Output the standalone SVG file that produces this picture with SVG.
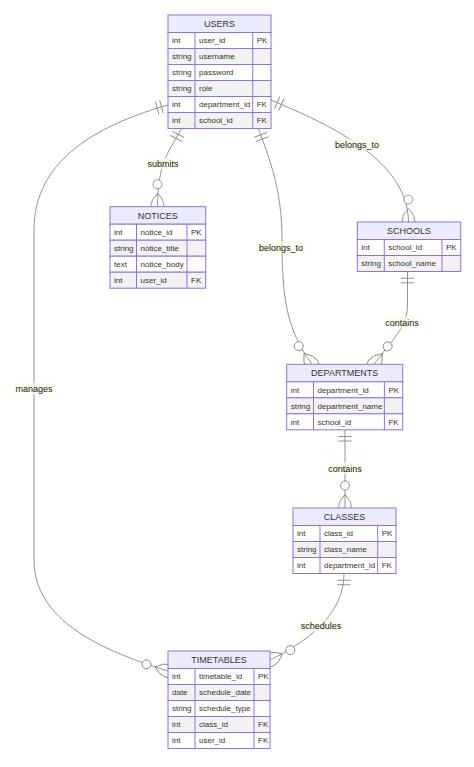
<svg xmlns="http://www.w3.org/2000/svg" width="474" height="767" viewBox="0 0 474 767">
<style>
.bg{fill:#ffffff}
.hdr{fill:#ECECFF;stroke:#9370DB;stroke-width:1}
.odd{fill:#ffffff;stroke:#9370DB;stroke-width:1}
.even{fill:#f2f2f2;stroke:#9370DB;stroke-width:1}
.sep{stroke:#9370DB;stroke-width:1}
.name{font-family:"Liberation Sans",Arial,sans-serif;font-size:9px;fill:#333;text-anchor:middle}
.attr{font-family:"Liberation Sans",Arial,sans-serif;font-size:8px;fill:#333}
.rel{fill:none;stroke:#7a7a7a;stroke-width:0.8}
.lblbox{fill:#f9ffec;opacity:0.7}
.lbl{font-family:"Liberation Sans",Arial,sans-serif;font-size:9px;fill:#131300;text-anchor:middle}
</style>
<defs>
<marker id="one" markerUnits="userSpaceOnUse" viewBox="0 -8 14 16" markerWidth="14" markerHeight="16" refX="0" refY="0" orient="auto">
<path d="M6.75,-6.75V6.75M11.25,-6.75V6.75" fill="none" stroke="#7a7a7a" stroke-width="0.8"/>
</marker>
<marker id="many" markerUnits="userSpaceOnUse" viewBox="-28 -8 44 16" markerWidth="44" markerHeight="16" refX="0" refY="0" orient="auto">
<circle cx="-22.5" cy="0" r="4.5" fill="#fff" stroke="#7a7a7a" stroke-width="0.8"/>
<path d="M-13.5,0Q0,-13.5 13.5,0Q0,13.5 -13.5,0" fill="none" stroke="#7a7a7a" stroke-width="0.8"/>
</marker>
</defs>
<rect class="bg" x="0" y="0" width="474" height="767"/>
<g id="connectors">
<path class="rel" d="M181.5,128.5C170,150 157.5,162 157.5,206.7" marker-start="url(#one)" marker-end="url(#many)"/>
<path class="rel" d="M271,100C330,125 408,160 408.5,222" marker-start="url(#one)" marker-end="url(#many)"/>
<path class="rel" d="M258.3,128.5C270,160 282,190 282,240C282,300 287,330 312,364.3" marker-start="url(#one)" marker-end="url(#many)"/>
<path class="rel" d="M407.5,271.5L407.5,305C407.5,325 397.4,333.7 374,364.3" marker-start="url(#one)" marker-end="url(#many)"/>
<path class="rel" d="M345,429.8L345,508" marker-start="url(#one)" marker-end="url(#many)"/>
<path class="rel" d="M344,573.5C344,610 315,638 270,660" marker-start="url(#one)" marker-end="url(#many)"/>
<path class="rel" d="M168,105C80,130 34,170 34,230L34,560C34,620 100,650 168,671" marker-start="url(#one)" marker-end="url(#many)"/>
<rect class="lblbox" x="145.5" y="157.5" width="35" height="12"/>
<text class="lbl" x="163" y="167.2">submits</text>
<rect class="lblbox" x="333" y="138.5" width="48" height="12"/>
<text class="lbl" x="357" y="148.2">belongs_to</text>
<rect class="lblbox" x="257" y="241.5" width="48" height="12"/>
<text class="lbl" x="281" y="251.2">belongs_to</text>
<rect class="lblbox" x="383.5" y="316.5" width="37" height="12"/>
<text class="lbl" x="402" y="326.2">contains</text>
<rect class="lblbox" x="326.5" y="462" width="37" height="12"/>
<text class="lbl" x="345" y="471.7">contains</text>
<rect class="lblbox" x="298.5" y="619.5" width="45" height="12"/>
<text class="lbl" x="321" y="629.2">schedules</text>
<rect class="lblbox" x="13.5" y="382.5" width="41" height="12"/>
<text class="lbl" x="34" y="392.2">manages</text>
</g>
<g id="USERS">
<rect class="hdr" x="168" y="15" width="103" height="17.5"/>
<text class="name" x="219.5" y="27">USERS</text>
<rect class="odd" x="168" y="32.5" width="103" height="16"/>
<rect class="even" x="168" y="48.5" width="103" height="16"/>
<rect class="odd" x="168" y="64.5" width="103" height="16"/>
<rect class="even" x="168" y="80.5" width="103" height="16"/>
<rect class="odd" x="168" y="96.5" width="103" height="16"/>
<rect class="even" x="168" y="112.5" width="103" height="16"/>
<path class="sep" d="M195,32.5V128.5M252.7,32.5V128.5"/>
<text class="attr" x="172" y="43.4">int</text><text class="attr" x="199" y="43.4">user_id</text><text class="attr" x="256.7" y="43.4">PK</text>
<text class="attr" x="172" y="59.4">string</text><text class="attr" x="199" y="59.4">username</text>
<text class="attr" x="172" y="75.4">string</text><text class="attr" x="199" y="75.4">password</text>
<text class="attr" x="172" y="91.4">string</text><text class="attr" x="199" y="91.4">role</text>
<text class="attr" x="172" y="107.4">int</text><text class="attr" x="199" y="107.4">department_id</text><text class="attr" x="256.7" y="107.4">FK</text>
<text class="attr" x="172" y="123.4">int</text><text class="attr" x="199" y="123.4">school_id</text><text class="attr" x="256.7" y="123.4">FK</text>
</g>
<g id="NOTICES">
<rect class="hdr" x="110" y="206.7" width="95.7" height="17.5"/>
<text class="name" x="157.85" y="218.7">NOTICES</text>
<rect class="odd" x="110" y="224.2" width="95.7" height="16"/>
<rect class="even" x="110" y="240.2" width="95.7" height="16"/>
<rect class="odd" x="110" y="256.2" width="95.7" height="16"/>
<rect class="even" x="110" y="272.2" width="95.7" height="16"/>
<path class="sep" d="M136.5,224.2V288.2M187,224.2V288.2"/>
<text class="attr" x="114" y="235.1">int</text><text class="attr" x="140.5" y="235.1">notice_id</text><text class="attr" x="191" y="235.1">PK</text>
<text class="attr" x="114" y="251.1">string</text><text class="attr" x="140.5" y="251.1">notice_title</text>
<text class="attr" x="114" y="267.1">text</text><text class="attr" x="140.5" y="267.1">notice_body</text>
<text class="attr" x="114" y="283.1">int</text><text class="attr" x="140.5" y="283.1">user_id</text><text class="attr" x="191" y="283.1">FK</text>
</g>
<g id="SCHOOLS">
<rect class="hdr" x="357.3" y="222" width="103.4" height="17.5"/>
<text class="name" x="409" y="234">SCHOOLS</text>
<rect class="odd" x="357.3" y="239.5" width="103.4" height="16"/>
<rect class="even" x="357.3" y="255.5" width="103.4" height="16"/>
<path class="sep" d="M384.3,239.5V271.5M442,239.5V271.5"/>
<text class="attr" x="361.3" y="250.4">int</text><text class="attr" x="388.3" y="250.4">school_id</text><text class="attr" x="446" y="250.4">PK</text>
<text class="attr" x="361.3" y="266.4">string</text><text class="attr" x="388.3" y="266.4">school_name</text>
</g>
<g id="DEPARTMENTS">
<rect class="hdr" x="286.7" y="364.3" width="116" height="17.5"/>
<text class="name" x="344.7" y="376.3">DEPARTMENTS</text>
<rect class="odd" x="286.7" y="381.8" width="116" height="16"/>
<rect class="even" x="286.7" y="397.8" width="116" height="16"/>
<rect class="odd" x="286.7" y="413.8" width="116" height="16"/>
<path class="sep" d="M313.5,381.8V429.8M384.4,381.8V429.8"/>
<text class="attr" x="290.7" y="392.7">int</text><text class="attr" x="317.5" y="392.7">department_id</text><text class="attr" x="388.4" y="392.7">PK</text>
<text class="attr" x="290.7" y="408.7">string</text><text class="attr" x="317.5" y="408.7">department_name</text>
<text class="attr" x="290.7" y="424.7">int</text><text class="attr" x="317.5" y="424.7">school_id</text><text class="attr" x="388.4" y="424.7">FK</text>
</g>
<g id="CLASSES">
<rect class="hdr" x="293" y="508" width="103" height="17.5"/>
<text class="name" x="344.5" y="520">CLASSES</text>
<rect class="odd" x="293" y="525.5" width="103" height="16"/>
<rect class="even" x="293" y="541.5" width="103" height="16"/>
<rect class="odd" x="293" y="557.5" width="103" height="16"/>
<path class="sep" d="M320,525.5V573.5M377.7,525.5V573.5"/>
<text class="attr" x="297" y="536.4">int</text><text class="attr" x="324" y="536.4">class_id</text><text class="attr" x="381.7" y="536.4">PK</text>
<text class="attr" x="297" y="552.4">string</text><text class="attr" x="324" y="552.4">class_name</text>
<text class="attr" x="297" y="568.4">int</text><text class="attr" x="324" y="568.4">department_id</text><text class="attr" x="381.7" y="568.4">FK</text>
</g>
<g id="TIMETABLES">
<rect class="hdr" x="168" y="651" width="102" height="17.5"/>
<text class="name" x="219" y="663">TIMETABLES</text>
<rect class="odd" x="168" y="668.5" width="102" height="16"/>
<rect class="even" x="168" y="684.5" width="102" height="16"/>
<rect class="odd" x="168" y="700.5" width="102" height="16"/>
<rect class="even" x="168" y="716.5" width="102" height="16"/>
<rect class="odd" x="168" y="732.5" width="102" height="16"/>
<path class="sep" d="M195,668.5V748.5M254,668.5V748.5"/>
<text class="attr" x="172" y="679.4">int</text><text class="attr" x="199" y="679.4">timetable_id</text><text class="attr" x="258" y="679.4">PK</text>
<text class="attr" x="172" y="695.4">date</text><text class="attr" x="199" y="695.4">schedule_date</text>
<text class="attr" x="172" y="711.4">string</text><text class="attr" x="199" y="711.4">schedule_type</text>
<text class="attr" x="172" y="727.4">int</text><text class="attr" x="199" y="727.4">class_id</text><text class="attr" x="258" y="727.4">FK</text>
<text class="attr" x="172" y="743.4">int</text><text class="attr" x="199" y="743.4">user_id</text><text class="attr" x="258" y="743.4">FK</text>
</g>
</svg>
